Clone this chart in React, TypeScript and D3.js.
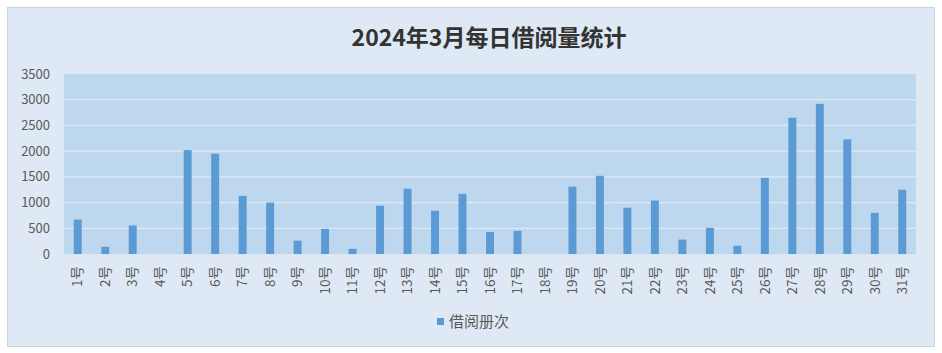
import React from "react";
import * as d3 from "d3";

const title = "2024年3月每日借阅量统计";
const seriesName = "借阅册次";
const days = Array.from({ length: 31 }, (_, i) => `${i + 1}号`);
const values = [
  670, 140, 555, 0, 2020, 1950, 1130, 1000, 260, 490,
  100, 940, 1270, 840, 1170, 430, 450, 0, 1310, 1520,
  900, 1040, 280, 510, 160, 1480, 2650, 2920, 2230, 800, 1250,
];
const yTicks = [0, 500, 1000, 1500, 2000, 2500, 3000, 3500];

const W = 942;
const H = 353;
const plot = { left: 64, right: 916, top: 74, bottom: 254 };
const font = "'Noto Sans CJK SC', 'Noto Sans', sans-serif";

export default function App() {
  const x = d3
    .scaleBand<string>()
    .domain(days)
    .range([plot.left, plot.right])
    .paddingInner(0.71)
    .paddingOuter(0.355);
  const y = d3.scaleLinear().domain([0, 3500]).range([plot.bottom, plot.top]);

  return (
    <svg
      width={W}
      height={H}
      style={{ position: "absolute", left: 0, top: 0, display: "block" }}
    >
      <rect x={0} y={0} width={W} height={H} fill="#ffffff" />
      <rect
        x={7.5}
        y={7.5}
        width={927}
        height={339}
        fill="#dee9f5"
        stroke="#d2d2d2"
        strokeWidth={1}
      />
      <text
        x={489}
        y={46}
        textAnchor="middle"
        fontFamily={font}
        fontWeight="bold"
        fontSize={23}
        fill="#333333"
      >
        {title}
      </text>
      <rect
        x={plot.left}
        y={plot.top}
        width={plot.right - plot.left}
        height={plot.bottom - plot.top}
        fill="#bdd7ee"
      />
      {yTicks.map((t) => (
        <g key={t}>
          {t > 0 && t < 3500 && (
            <line
              x1={plot.left}
              x2={plot.right}
              y1={y(t)}
              y2={y(t)}
              stroke="#dfeaf5"
              strokeWidth={1.2}
            />
          )}
          <text
            x={50}
            y={y(t)}
            dy="0.35em"
            textAnchor="end"
            fontFamily={font}
            fontSize={13}
            fill="#595959"
          >
            {t}
          </text>
        </g>
      ))}
      <line
        x1={plot.left}
        x2={plot.right}
        y1={plot.bottom + 0.5}
        y2={plot.bottom + 0.5}
        stroke="#d9e4f0"
        strokeWidth={1}
      />
      {days.map((d, i) => (
        <rect
          key={d}
          x={x(d)}
          y={y(values[i])}
          width={x.bandwidth()}
          height={plot.bottom - y(values[i])}
          fill="#5b9bd5"
        />
      ))}
      {days.map((d) => {
        const cx = (x(d) as number) + x.bandwidth() / 2;
        return (
          <text
            key={d}
            transform={`translate(${cx},266) rotate(-90)`}
            textAnchor="end"
            dy="0.35em"
            fontFamily={font}
            fontSize={13.5}
            fill="#595959"
          >
            {d}
          </text>
        );
      })}
      <rect x={437} y={318} width={7} height={7} fill="#5b9bd5" />
      <text
        x={449}
        y={327}
        fontFamily={font}
        fontSize={15}
        fill="#595959"
      >
        {seriesName}
      </text>
    </svg>
  );
}
